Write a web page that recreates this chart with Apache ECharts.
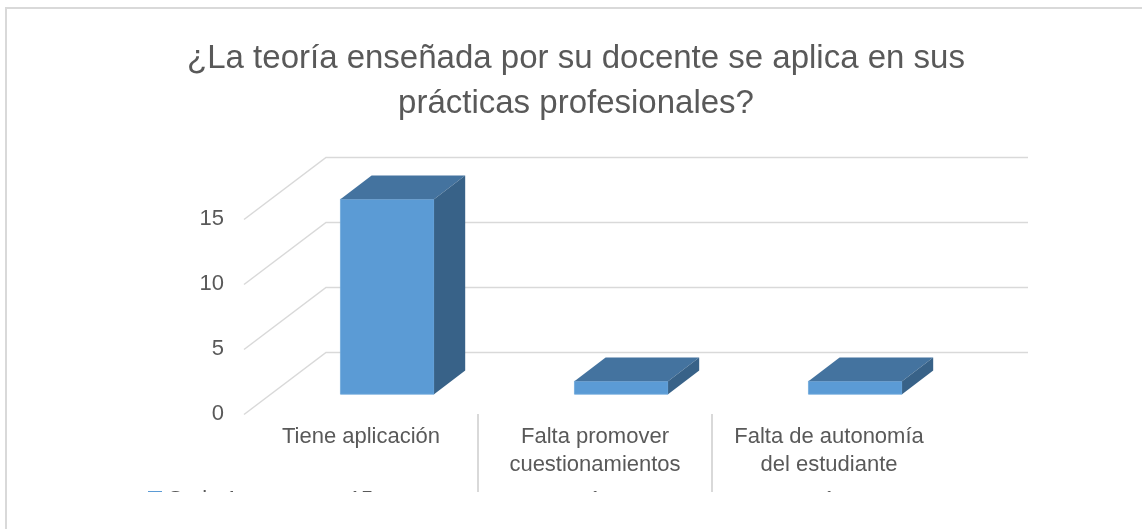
<!DOCTYPE html>
<html><head><meta charset="utf-8">
<script src="https://cdn.jsdelivr.net/npm/echarts@6/dist/echarts.min.js"></script>
<style>html,body{margin:0;padding:0;background:#fff}#c{width:1142px;height:529px}</style>
</head><body><div id="c"></div>
<script>
const titleText = '¿La teoría enseñada por su docente se aplica en sus\nprácticas profesionales?';
const categories = ['Tiene aplicación', 'Falta promover\ncuestionamientos', 'Falta de autonomía\ndel estudiante'];
const seriesName = 'Serie 1';
const values = [15, 1, 1];
const yTicks = [0, 5, 10, 15];

const FONT = 'Liberation Sans';
const TXT = '#595959';
const GRIDC = '#d9d9d9';
const DEPTH = [82, -62];
const BAR_FRONT = 0.32, BAR_BACK = 0.70, BAR_W = 0.40;
const TABLE_Y = 489;

const chart = echarts.init(document.getElementById('c'));

function gridRender(params, api) {
  const cs = params.coordSys;
  const t = api.value(1);
  const y = api.coord([0, t])[1];
  return {
    type: 'polyline',
    shape: { points: [[cs.x, y + 0.5], [cs.x + DEPTH[0], y + DEPTH[1] + 0.5], [cs.x + cs.width + DEPTH[0], y + DEPTH[1] + 0.5]] },
    style: { stroke: GRIDC, lineWidth: 1.5, fill: null }
  };
}

function barRender(params, api) {
  const i = api.value(0), v = api.value(1);
  const top = api.coord([i, v]);
  const base = api.coord([i, 0]);
  const band = api.size([1, 0])[0];
  const w = band * BAR_W;
  const fx = DEPTH[0] * BAR_FRONT, fy = DEPTH[1] * BAR_FRONT;
  const dx = DEPTH[0] * (BAR_BACK - BAR_FRONT), dy = DEPTH[1] * (BAR_BACK - BAR_FRONT);
  const xl = top[0] - w / 2 + fx, xr = xl + w;
  const yt = top[1] + fy, yb = base[1] + fy;
  const children = [
    { type: 'polygon', shape: { points: [[xl, yt], [xr, yt], [xr, yb], [xl, yb]] },
      style: { fill: '#5b9bd5', stroke: '#6fa8dc', lineWidth: 0.8 } },
    { type: 'polygon', shape: { points: [[xl, yt], [xr, yt], [xr + dx, yt + dy], [xl + dx, yt + dy]] },
      style: { fill: '#44739f' } },
    { type: 'polygon', shape: { points: [[xr, yt], [xr + dx, yt + dy], [xr + dx, yb + dy], [xr, yb]] },
      style: { fill: '#386288' } },
    { type: 'text', style: { text: String(v), x: top[0], y: TABLE_Y, align: 'center', verticalAlign: 'top',
      fontFamily: FONT, fontSize: 22, fill: TXT } }
  ];
  if (i > 0) {
    const bx = top[0] - band / 2;
    children.push({ type: 'line', shape: { x1: bx, y1: base[1], x2: bx, y2: 529 },
      style: { stroke: GRIDC, lineWidth: 2 } });
  }
  return { type: 'group', children };
}

chart.setOption({
  animation: false,
  backgroundColor: '#ffffff',
  title: {
    text: titleText,
    left: 576,
    top: 36,
    padding: 0,
    textAlign: 'center',
    textStyle: { fontFamily: FONT, fontSize: 33, fontWeight: 'normal', color: TXT, lineHeight: 45, align: 'center' }
  },
  grid: { left: 244, right: 196, top: 219, bottom: 115, containLabel: false },
  xAxis: {
    type: 'category', data: categories,
    axisLine: { show: false }, axisTick: { show: false },
    axisLabel: { interval: 0, margin: 9, fontFamily: FONT, fontSize: 22, lineHeight: 28, color: TXT }
  },
  yAxis: {
    type: 'value', min: 0, max: 15, interval: 5,
    axisLine: { show: false }, axisTick: { show: false }, splitLine: { show: false },
    axisLabel: { margin: 20, fontFamily: FONT, fontSize: 22, color: TXT }
  },
  series: [
    { type: 'custom', name: 'grid', z: 1, clip: false, silent: true,
      data: yTicks.map(t => [0, t]), renderItem: gridRender },
    { type: 'custom', name: seriesName, z: 2, clip: false,
      data: values.map((v, i) => [i, v]), renderItem: barRender }
  ],
  graphic: [
    { type: 'rect', z: 50, shape: { x: 148, y: 491, width: 14, height: 14 }, style: { fill: '#5b9bd5' } },
    { type: 'text', z: 50, style: { text: seriesName, x: 168, y: TABLE_Y, fontFamily: FONT, fontSize: 22, fill: TXT } },
    { type: 'rect', z: 100, shape: { x: 9, y: 492, width: 1140, height: 40 }, style: { fill: '#ffffff' } },
    { type: 'rect', z: 101, shape: { x: 6, y: 8, width: 1300, height: 700 },
      style: { fill: null, stroke: GRIDC, lineWidth: 2 } }
  ]
});
</script>
</body></html>
